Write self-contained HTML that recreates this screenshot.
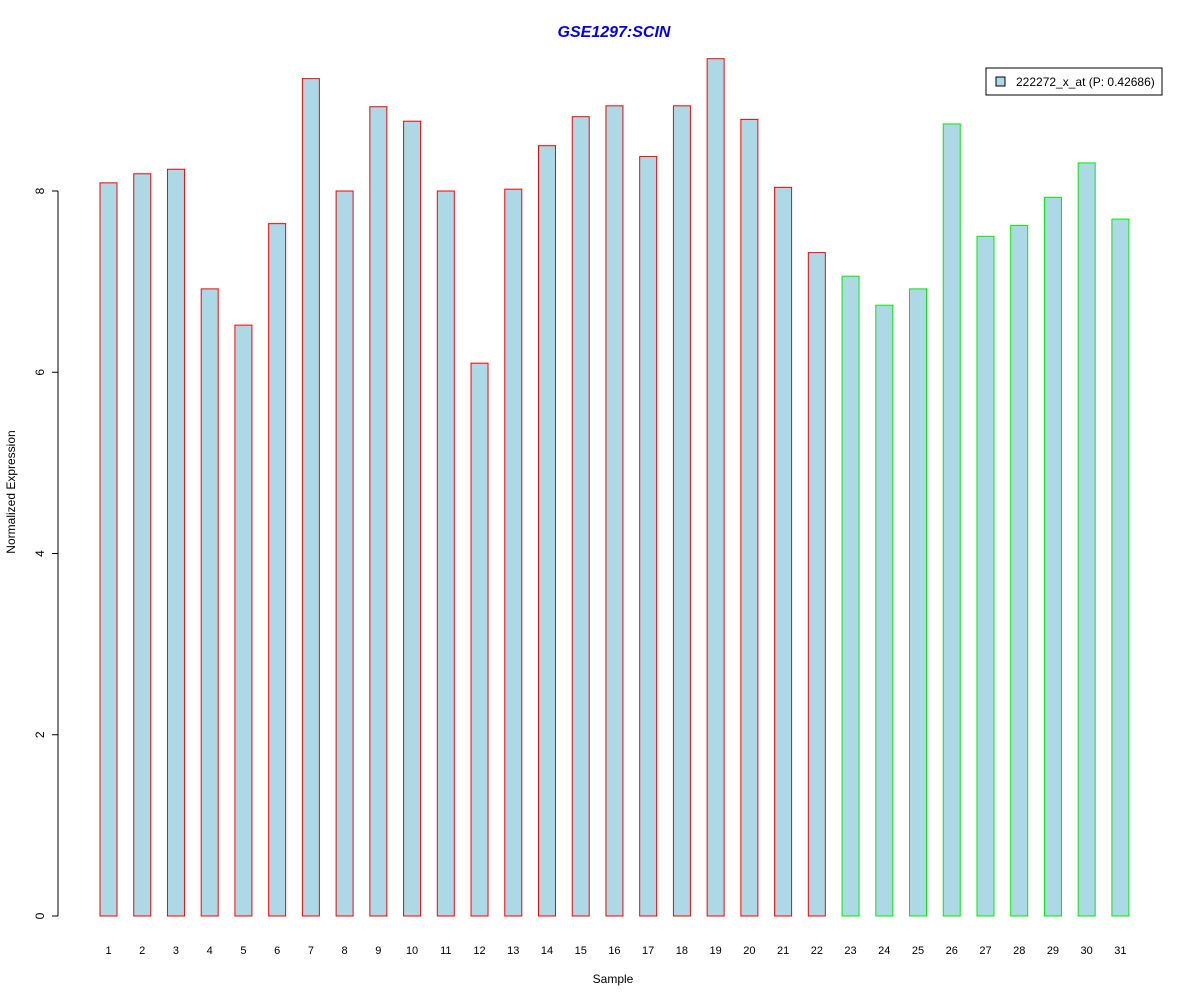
<!DOCTYPE html>
<html><head><meta charset="utf-8"><style>
body{margin:0;background:#fff;}
svg text{font-family:"Liberation Sans",Arial,sans-serif;}
</style></head><body>
<svg id="chart" width="1200" height="1000" xmlns="http://www.w3.org/2000/svg">
<rect width="1200" height="1000" fill="#fff"/>
<text x="614" y="37" text-anchor="middle" font-size="16" font-weight="bold" font-style="italic" fill="#0000ee">GSE1297:SCIN</text>
<text x="613" y="983" text-anchor="middle" font-size="12">Sample</text>
<text transform="translate(15,492) rotate(-90)" text-anchor="middle" font-size="12">Normalized Expression</text>
<g id="yaxis"></g>
<g id="bars"></g>
<g id="xlabels"></g>
<g>
<rect x="986" y="68" width="176" height="27" fill="#fff" stroke="#000"/>
<rect x="996" y="77" width="9" height="9" fill="#add8e6" stroke="#000"/>
<text x="1016" y="86" font-size="12">222272_x_at (P: 0.42686)</text>
</g>
</svg>
<script>
const categories=["1","2","3","4","5","6","7","8","9","10","11","12","13","14","15","16","17","18","19","20","21","22","23","24","25","26","27","28","29","30","31"];
const values=[8.09,8.19,8.24,6.92,6.52,7.64,9.24,8.0,8.93,8.77,8.0,6.10,8.02,8.50,8.82,8.94,8.38,8.94,9.46,8.79,8.04,7.32,7.06,6.74,6.92,8.74,7.50,7.62,7.93,8.31,7.69];
const groups=["a","a","a","a","a","a","a","a","a","a","a","a","a","a","a","a","a","a","a","a","a","a","b","b","b","b","b","b","b","b","b"];
const yTicks=[0,2,4,6,8];
const NS="http://www.w3.org/2000/svg";
const y=v=>916-v*90.625;
const x=i=>108.5+i*33.73;
function mk(t,a,p){const e=document.createElementNS(NS,t);for(const k in a)e.setAttribute(k,a[k]);p.appendChild(e);return e;}
const ya=document.getElementById('yaxis');
mk('line',{x1:58,x2:58,y1:y(0),y2:y(8),stroke:'#000'},ya);
yTicks.forEach(t=>{
 const l=mk('line',{x1:52,x2:58,y1:y(t),y2:y(t),stroke:'#000'},ya);
 
 
 const tx=mk('text',{transform:`translate(44,${y(t)}) rotate(-90)`,'text-anchor':'middle','font-size':12},ya);
 tx.textContent=t;
 
 
});
const bg=document.getElementById('bars'),xl=document.getElementById('xlabels');
values.forEach((v,i)=>{
 const r=mk('rect',{x:x(i)-8.5,y:y(v),width:17,height:y(0)-y(v),fill:'#add8e6',stroke:groups[i]==='a'?'#ff0000':'#00ee00'},bg);
 
 
 const t=mk('text',{x:x(i),y:954,'text-anchor':'middle','font-size':11},xl);
 t.textContent=categories[i];
 
 
});
</script>
</body></html>
